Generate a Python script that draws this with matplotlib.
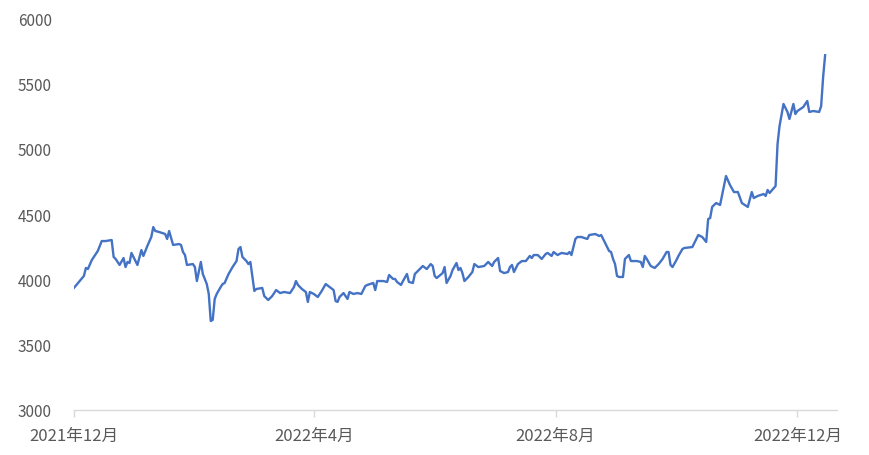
import matplotlib
matplotlib.use("Agg")
import matplotlib.pyplot as plt
import pandas as pd

plt.rcParams['font.family'] = ['Noto Sans CJK SC', 'DejaVu Sans']

dates = [
    "2021-12-01", "2021-12-06", "2021-12-07", "2021-12-08", "2021-12-10", "2021-12-13", "2021-12-15", "2021-12-17",
    "2021-12-20", "2021-12-21", "2021-12-22", "2021-12-24", "2021-12-26", "2021-12-27", "2021-12-28", "2021-12-29",
    "2021-12-30", "2022-01-02", "2022-01-04", "2022-01-05", "2022-01-07", "2022-01-09", "2022-01-10", "2022-01-11",
    "2022-01-13", "2022-01-16", "2022-01-17", "2022-01-18", "2022-01-20", "2022-01-23", "2022-01-24", "2022-01-25",
    "2022-01-26", "2022-01-27", "2022-01-30", "2022-01-31", "2022-02-01", "2022-02-03", "2022-02-04", "2022-02-06",
    "2022-02-07", "2022-02-08", "2022-02-09", "2022-02-10", "2022-02-11", "2022-02-13", "2022-02-14", "2022-02-15",
    "2022-02-17", "2022-02-19", "2022-02-21", "2022-02-22", "2022-02-23", "2022-02-24", "2022-02-26", "2022-02-27",
    "2022-02-28", "2022-03-02", "2022-03-03", "2022-03-06", "2022-03-07", "2022-03-09", "2022-03-11", "2022-03-13",
    "2022-03-15", "2022-03-17", "2022-03-20", "2022-03-22", "2022-03-23", "2022-03-24", "2022-03-26", "2022-03-28",
    "2022-03-29", "2022-03-30", "2022-04-01", "2022-04-03", "2022-04-05", "2022-04-07", "2022-04-09", "2022-04-11",
    "2022-04-12", "2022-04-13", "2022-04-14", "2022-04-16", "2022-04-18", "2022-04-19", "2022-04-21", "2022-04-23",
    "2022-04-25", "2022-04-27", "2022-04-28", "2022-05-01", "2022-05-02", "2022-05-03", "2022-05-06", "2022-05-08",
    "2022-05-09", "2022-05-11", "2022-05-12", "2022-05-13", "2022-05-15", "2022-05-16", "2022-05-18", "2022-05-19",
    "2022-05-21", "2022-05-22", "2022-05-23", "2022-05-26", "2022-05-28", "2022-05-30", "2022-05-31", "2022-06-01",
    "2022-06-02", "2022-06-05", "2022-06-06", "2022-06-07", "2022-06-09", "2022-06-10", "2022-06-12", "2022-06-13",
    "2022-06-14", "2022-06-15", "2022-06-16", "2022-06-18", "2022-06-20", "2022-06-21", "2022-06-23", "2022-06-26",
    "2022-06-28", "2022-06-30", "2022-07-01", "2022-07-03", "2022-07-04", "2022-07-06", "2022-07-08", "2022-07-09",
    "2022-07-10", "2022-07-11", "2022-07-13", "2022-07-15", "2022-07-17", "2022-07-19", "2022-07-20", "2022-07-21",
    "2022-07-23", "2022-07-25", "2022-07-27", "2022-07-28", "2022-07-30", "2022-07-31", "2022-08-02", "2022-08-04",
    "2022-08-07", "2022-08-08", "2022-08-09", "2022-08-10", "2022-08-11", "2022-08-12", "2022-08-14", "2022-08-17",
    "2022-08-18", "2022-08-21", "2022-08-23", "2022-08-24", "2022-08-25", "2022-08-28", "2022-08-29", "2022-08-30",
    "2022-08-31", "2022-09-01", "2022-09-02", "2022-09-04", "2022-09-05", "2022-09-06", "2022-09-07", "2022-09-08",
    "2022-09-11", "2022-09-13", "2022-09-14", "2022-09-15", "2022-09-16", "2022-09-18", "2022-09-20", "2022-09-22",
    "2022-09-24", "2022-09-26", "2022-09-27", "2022-09-28", "2022-09-29", "2022-10-01", "2022-10-02", "2022-10-04",
    "2022-10-05", "2022-10-09", "2022-10-11", "2022-10-12", "2022-10-14", "2022-10-16", "2022-10-17", "2022-10-18",
    "2022-10-19", "2022-10-21", "2022-10-23", "2022-10-26", "2022-10-28", "2022-10-30", "2022-11-01", "2022-11-03",
    "2022-11-06", "2022-11-08", "2022-11-09", "2022-11-11", "2022-11-14", "2022-11-15", "2022-11-16", "2022-11-17",
    "2022-11-20", "2022-11-21", "2022-11-22", "2022-11-24", "2022-11-26", "2022-11-27", "2022-11-29", "2022-11-30",
    "2022-12-01", "2022-12-04", "2022-12-06", "2022-12-07", "2022-12-09", "2022-12-12", "2022-12-13", "2022-12-14",
    "2022-12-15",
]

values = [
    3935, 4026, 4087, 4079, 4148, 4217, 4293, 4293,
    4301, 4171, 4156, 4110, 4163, 4094, 4133, 4125,
    4202, 4110, 4224, 4179, 4255, 4324, 4400, 4370,
    4362, 4347, 4309, 4370, 4263, 4270, 4263, 4209,
    4186, 4110, 4117, 4094, 3987, 4133, 4041, 3964,
    3888, 3681, 3690, 3850, 3888, 3941, 3964, 3972,
    4041, 4094, 4140, 4232, 4247, 4171, 4140, 4117,
    4133, 3911, 3926, 3934, 3872, 3842, 3872, 3918,
    3895, 3903, 3895, 3941, 3987, 3957, 3926, 3903,
    3827, 3903, 3888, 3865, 3911, 3964, 3941, 3918,
    3834, 3827, 3865, 3895, 3850, 3903, 3888, 3895,
    3888, 3949, 3957, 3972, 3918, 3987, 3987, 3980,
    4033, 4003, 4003, 3980, 3957, 3987, 4041, 3980,
    3972, 4041, 4056, 4102, 4079, 4117, 4102, 4026,
    4010, 4048, 4094, 3972, 4026, 4071, 4125, 4071,
    4087, 4048, 3987, 4018, 4056, 4117, 4094, 4102,
    4133, 4102, 4133, 4163, 4064, 4048, 4056, 4094,
    4110, 4056, 4117, 4140, 4140, 4179, 4163, 4186,
    4186, 4156, 4194, 4202, 4179, 4209, 4186, 4202,
    4194, 4209, 4186, 4247, 4309, 4324, 4324, 4309,
    4339, 4347, 4332, 4339, 4309, 4217, 4209, 4156,
    4117, 4026, 4018, 4018, 4156, 4171, 4186, 4140,
    4140, 4133, 4094, 4179, 4156, 4102, 4087, 4117,
    4156, 4209, 4209, 4110, 4094, 4148, 4179, 4232,
    4240, 4247, 4309, 4339, 4324, 4286, 4462, 4469,
    4554, 4584, 4569, 4791, 4722, 4668, 4668, 4584,
    4554, 4668, 4622, 4638, 4653, 4638, 4684, 4661,
    4714, 5036, 5173, 5342, 5281, 5227, 5342, 5265,
    5288, 5319, 5365, 5281, 5288, 5281, 5326, 5548,
    5715,
]

tick_dates = ["2021-12-01", "2022-04-01", "2022-08-01", "2022-12-01"]
tick_labels = ["2021年12月", "2022年4月", "2022年8月", "2022年12月"]
y_ticks = [3000, 3500, 4000, 4500, 5000, 5500, 6000]

x = pd.to_datetime(dates)

fig = plt.figure(figsize=(8.7, 4.56), dpi=100)
ax = fig.add_axes([74 / 870, 45 / 456, (837 - 74) / 870, 392 / 456])
ax.plot(x, values, color="#4472C4", linewidth=1.7, solid_joinstyle="round")

ax.set_ylim(3000, 6000)
ax.set_yticks(y_ticks)
ax.set_yticklabels([str(v) for v in y_ticks])
ax.set_xlim(pd.Timestamp("2021-12-01"), pd.Timestamp("2022-12-21"))
ax.set_xticks(pd.to_datetime(tick_dates))
ax.set_xticklabels(tick_labels)

for s in ["left", "right", "top"]:
    ax.spines[s].set_visible(False)
ax.spines["bottom"].set_color("#D9D9D9")
ax.spines["bottom"].set_linewidth(1.0)

ax.tick_params(axis="y", length=0, pad=16, labelsize=11, labelcolor="#595959")
ax.tick_params(axis="x", length=5, width=1.0, color="#D9D9D9", direction="out",
               pad=7, labelsize=12, labelcolor="#595959")

fig.savefig("out.png", dpi=100)
